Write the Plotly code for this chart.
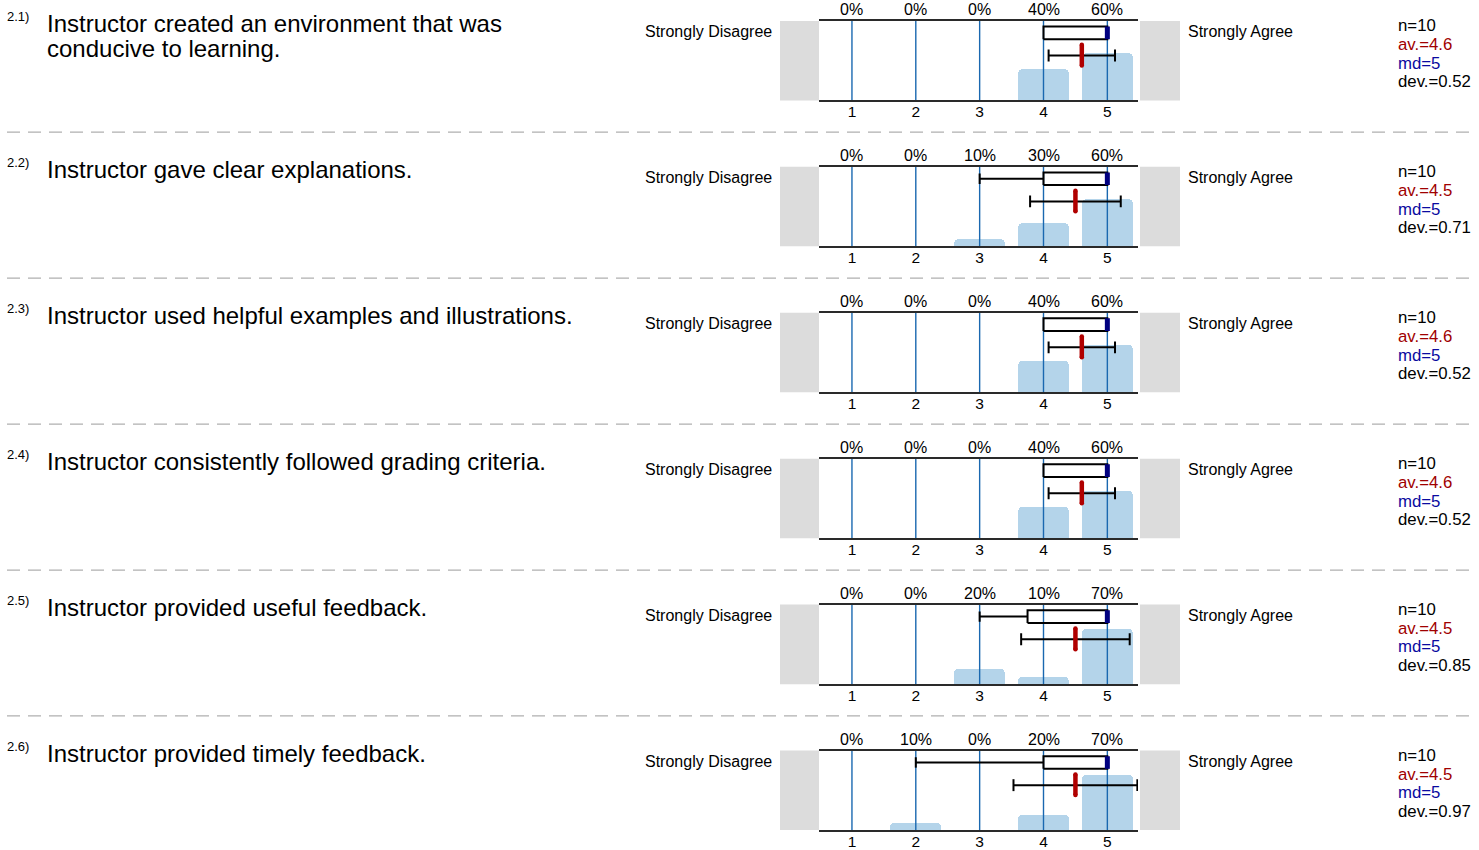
import plotly.graph_objects as go

# ---------------- data ----------------
item_labels = ["2.1)", "2.2)", "2.3)", "2.4)", "2.5)", "2.6)"]
questions = [
    "Instructor created an environment that was<br>conducive to learning.",
    "Instructor gave clear explanations.",
    "Instructor used helpful examples and illustrations.",
    "Instructor consistently followed grading criteria.",
    "Instructor provided useful feedback.",
    "Instructor provided timely feedback.",
]
scale_values = [1, 2, 3, 4, 5]
left_label = "Strongly Disagree"
right_label = "Strongly Agree"
pct_row1 = [0, 0, 0, 40, 60]
pct_row2 = [0, 0, 10, 30, 60]
pct_row3 = [0, 0, 0, 40, 60]
pct_row4 = [0, 0, 0, 40, 60]
pct_row5 = [0, 0, 20, 10, 70]
pct_row6 = [0, 10, 0, 20, 70]
percentages = [pct_row1, pct_row2, pct_row3, pct_row4, pct_row5, pct_row6]
n_vals = [10, 10, 10, 10, 10, 10]
av_vals = [4.6, 4.5, 4.6, 4.6, 4.5, 4.5]
md_vals = [5, 5, 5, 5, 5, 5]
dev_vals = [0.52, 0.71, 0.52, 0.52, 0.85, 0.97]
q1_vals = [4, 4, 4, 4, 3.75, 4]
q3_vals = [5, 5, 5, 5, 5, 5]
low_whisker = [4, 3, 4, 4, 3, 2]

# ---------------- layout geometry ----------------
W, H = 1479, 850
row_top0 = 21
row_step = 146.8
plot_h = 80
px_left, px_right = 819, 1138

BAR_COLOR = "#b4d4ea"
GRID_COLOR = "#1a68b0"
RED = "#b00000"
NAVY = "#000080"
FONT = "Liberation Sans, Arial, sans-serif"

def px_x(p):
    return p / W

def px_y(p):
    return 1 - p / H

fig = go.Figure()
annotations = []
shapes = []

for i in range(6):
    k = i + 1
    xa = "x" if k == 1 else f"x{k}"
    ya = "y" if k == 1 else f"y{k}"
    top = row_top0 + i * row_step
    bottom = top + plot_h
    pct = percentages[i]

    # bars
    fig.add_trace(go.Bar(
        x=scale_values, y=[p / 100 for p in pct], width=0.8,
        marker=dict(color=BAR_COLOR, cornerradius=5, line=dict(width=0)),
        xaxis=xa, yaxis=ya, showlegend=False, hoverinfo="skip"))

    # vertical grid lines (drawn above bars)
    gx, gy = [], []
    for v in scale_values:
        gx += [v, v, None]
        gy += [0, 1, None]
    fig.add_trace(go.Scatter(x=gx, y=gy, mode="lines",
                             line=dict(color=GRID_COLOR, width=1.4),
                             xaxis=xa, yaxis=ya, showlegend=False, hoverinfo="skip"))

    # box plot
    q1, q3, lw, md = q1_vals[i], q3_vals[i], low_whisker[i], md_vals[i]
    b0, b1, bc = 0.77, 0.93, 0.85
    bx = [q1, q3, q3, q1, q1]
    by = [b0, b0, b1, b1, b0]
    if lw < q1:
        bx += [None, lw, q1, None, lw, lw]
        by += [None, bc, bc, None, 0.785, 0.915]
    fig.add_trace(go.Scatter(x=bx, y=by, mode="lines",
                             line=dict(color="black", width=2),
                             xaxis=xa, yaxis=ya, showlegend=False, hoverinfo="skip"))
    fig.add_trace(go.Scatter(x=[md, md], y=[b0, b1], mode="lines",
                             line=dict(color=NAVY, width=5),
                             xaxis=xa, yaxis=ya, showlegend=False, hoverinfo="skip"))

    # mean +- deviation
    av, dv = av_vals[i], dev_vals[i]
    lo, hi = av - dv, av + dv
    my = 0.565
    fig.add_trace(go.Scatter(
        x=[lo, hi, None, lo, lo, None, hi, hi],
        y=[my, my, None, my - 0.075, my + 0.075, None, my - 0.075, my + 0.075],
        mode="lines", line=dict(color="black", width=2),
        xaxis=xa, yaxis=ya, showlegend=False, hoverinfo="skip", cliponaxis=False))
    fig.add_trace(go.Scatter(
        x=[av, av], y=[0.44, 0.70], mode="lines+markers",
        line=dict(color=RED, width=4.5),
        marker=dict(color=RED, size=4.5, line=dict(width=0)),
        xaxis=xa, yaxis=ya, showlegend=False, hoverinfo="skip", cliponaxis=False))

    # axes
    dom_x = [px_x(px_left), px_x(px_right)]
    dom_y = [px_y(bottom), px_y(top)]
    fig.update_layout(**{
        ("xaxis" if k == 1 else f"xaxis{k}"): dict(
            domain=dom_x, anchor=ya, range=[0.484, 5.48],
            tickvals=scale_values, ticktext=[str(v) for v in scale_values],
            showgrid=False, zeroline=False, showline=True, mirror=True,
            linecolor="#2a2a2a", linewidth=2, ticks="", ticklabelstandoff=-4,
            tickfont=dict(size=15.5, color="black", family=FONT), fixedrange=True),
        ("yaxis" if k == 1 else f"yaxis{k}"): dict(
            domain=dom_y, anchor=xa, range=[0, 1], visible=False, fixedrange=True),
    })

    # percentage labels above the plot
    for v, p in zip(scale_values, pct):
        annotations.append(dict(
            x=v, y=1, xref=xa, yref=f"{ya} domain", text=f"{p}%",
            showarrow=False, yanchor="bottom", yshift=1,
            font=dict(size=16, color="black", family=FONT)))

    # grey side boxes
    shapes.append(dict(type="rect", xref="paper", yref="paper",
                       x0=px_x(780), x1=px_x(819), y0=px_y(bottom), y1=px_y(top),
                       fillcolor="#dcdcdc", line=dict(width=0), layer="below"))
    shapes.append(dict(type="rect", xref="paper", yref="paper",
                       x0=px_x(1140), x1=px_x(1180), y0=px_y(bottom), y1=px_y(top),
                       fillcolor="#dcdcdc", line=dict(width=0), layer="below"))

    # scale end labels
    annotations.append(dict(x=px_x(774), y=px_y(top + 11), xref="paper", yref="paper",
                            text=left_label, showarrow=False, xanchor="right", yanchor="middle",
                            font=dict(size=16, color="black", family=FONT)))
    annotations.append(dict(x=px_x(1186), y=px_y(top + 11), xref="paper", yref="paper",
                            text=right_label, showarrow=False, xanchor="left", yanchor="middle",
                            font=dict(size=16, color="black", family=FONT)))

    # item label and question text
    annotations.append(dict(x=px_x(5), y=px_y(top - 4), xref="paper", yref="paper",
                            text=item_labels[i], showarrow=False, xanchor="left", yanchor="middle",
                            font=dict(size=13, color="black", family=FONT)))
    for j, line in enumerate(questions[i].split("<br>")):
        annotations.append(dict(x=px_x(45), y=px_y(top + 3 + j * 24.5), xref="paper", yref="paper",
                                text=line, showarrow=False, xanchor="left", yanchor="middle",
                                font=dict(size=24, color="black", family=FONT)))

    # statistics
    stats = [(f"n={n_vals[i]}", "black"), (f"av.={av_vals[i]}", "#a00000"),
             (f"md={md_vals[i]}", "#0a0aa0"), (f"dev.={dev_vals[i]:.2f}", "black")]
    for j, (txt, col) in enumerate(stats):
        annotations.append(dict(x=px_x(1397), y=px_y(top + 5 + j * 18.8), xref="paper", yref="paper",
                                text=txt, showarrow=False, xanchor="left", yanchor="middle",
                                borderpad=0,
                                font=dict(size=16.8, color=col, family=FONT)))

    # dashed separator
    if i < 5:
        sy = top + 112
        shapes.append(dict(type="line", xref="paper", yref="paper",
                           x0=px_x(7), x1=px_x(1472), y0=px_y(sy), y1=px_y(sy),
                           line=dict(color="#b0b0b0", width=1.3, dash="13px,8px")))

fig.update_layout(
    width=W, height=H, autosize=False, margin=dict(l=0, r=0, t=0, b=0),
    paper_bgcolor="white", plot_bgcolor="white",
    annotations=annotations, shapes=shapes, bargap=0,
    font=dict(family=FONT, color="black"), showlegend=False,
)

page_fix = (
    "var de=document.documentElement;var b=document.body;"
    "de.style.margin='0';de.style.padding='0';de.style.overflow='hidden';de.style.height='850px';"
    "b.style.margin='0';b.style.padding='0';b.style.overflow='hidden';b.style.height='850px';"
    "b.style.lineHeight='0';b.style.fontSize='0';"
    "var g=document.querySelector('.plotly-graph-div');"
    "g.style.display='block';g.parentElement.style.height='850px';g.parentElement.style.overflow='hidden';"
)

fig.write_html("out.html", config={"displayModeBar": False, "responsive": False},
               post_script=page_fix)
